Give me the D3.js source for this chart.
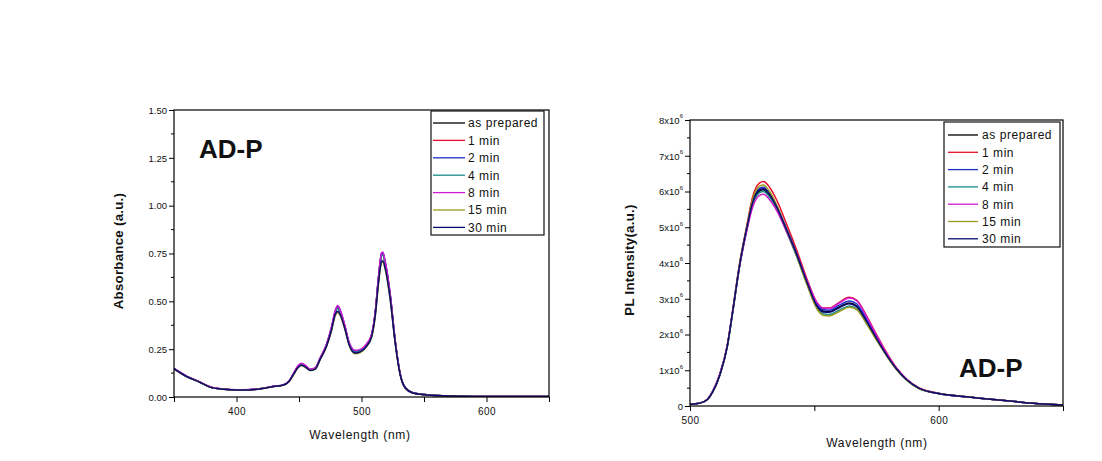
<!DOCTYPE html>
<html><head><meta charset="utf-8">
<script src="https://cdn.jsdelivr.net/npm/d3@7"></script>
<style>body{margin:0;background:#fff}svg{display:block}text{font-family:"Liberation Sans",Arial,sans-serif;fill:#111}</style>
</head><body>
<svg id="c" width="1102" height="461"></svg>
<script>
// ---------- DATA ----------
const seriesNames = ["as prepared","1 min","2 min","4 min","8 min","15 min","30 min"];
const seriesColors = ["#000000","#e8102a","#1a2fd0","#1a8c8c","#d21ad2","#9a9a1a","#0a0a70"];

// Absorbance (left panel)
const absWl = [350,360,370,380,390,400,410,420,430,437,442,446,449,452,455,459,463,467,472,476,479,481,483,487,490,495,499,504,508,511,513.5,516,517,519,523,527,531,535,541,550,565,600,650];
const absAsPrepared = [.148,.108,.080,.050,.041,.037,.038,.044,.056,.062,.082,.125,.158,.172,.162,.143,.150,.202,.272,.360,.445,.470,.448,.360,.283,.238,.243,.272,.322,.440,.615,.745,.750,.700,.530,.290,.118,.048,.022,.013,.007,.003,.002];
const abs1min      = [.148,.108,.080,.050,.041,.037,.038,.044,.056,.062,.082,.125,.157,.170,.161,.142,.150,.202,.272,.358,.442,.466,.445,.358,.282,.236,.242,.271,.321,.438,.612,.742,.748,.698,.528,.289,.118,.048,.022,.013,.007,.003,.002];
const abs2min      = [.149,.109,.080,.050,.041,.037,.038,.044,.056,.062,.083,.126,.160,.174,.164,.144,.151,.204,.274,.363,.450,.474,.452,.363,.285,.240,.245,.274,.324,.443,.620,.750,.755,.705,.534,.292,.119,.048,.022,.013,.007,.003,.002];
const abs4min      = [.147,.108,.079,.050,.041,.037,.038,.044,.056,.062,.082,.124,.156,.168,.160,.141,.149,.200,.270,.357,.440,.462,.442,.356,.281,.234,.241,.270,.320,.436,.608,.735,.742,.692,.525,.287,.117,.048,.022,.013,.007,.003,.002];
const abs8min      = [.149,.109,.081,.051,.042,.038,.039,.045,.057,.063,.084,.127,.162,.176,.166,.146,.153,.206,.276,.366,.452,.478,.455,.366,.288,.244,.249,.277,.327,.446,.622,.752,.758,.708,.536,.294,.120,.049,.022,.013,.007,.003,.002];
const abs15min     = [.146,.107,.079,.049,.040,.036,.037,.043,.055,.061,.080,.120,.150,.164,.155,.138,.145,.196,.263,.345,.425,.442,.425,.345,.272,.226,.232,.262,.310,.420,.585,.700,.705,.665,.505,.278,.114,.046,.021,.012,.007,.003,.002];
const abs30min     = [.147,.107,.079,.049,.040,.036,.037,.043,.055,.061,.081,.122,.153,.166,.157,.139,.146,.198,.265,.350,.432,.448,.430,.350,.275,.230,.236,.265,.313,.425,.592,.708,.712,.672,.510,.280,.115,.047,.021,.012,.007,.003,.002];

// PL intensity (right panel), units of 1e6
const plWl = [500,504,507,509,512,515,517,520,523,525,528,529.5,532,535,539,543,547,551,553.5,556,560,564,567,571,575,579,583,587,592,600,611,624,638,650];
const plAsPrepared = [.05,.08,.18,.38,.87,1.67,2.55,3.94,5.00,5.62,6.02,6.05,5.88,5.52,4.88,4.20,3.46,2.82,2.66,2.64,2.77,2.88,2.80,2.38,1.90,1.44,1.04,.74,.50,.35,.26,.17,.08,.03];
const pl1min       = [.05,.08,.18,.39,.89,1.70,2.60,4.02,5.10,5.80,6.24,6.28,6.12,5.74,5.06,4.34,3.56,2.90,2.74,2.74,2.90,3.04,2.96,2.52,2.00,1.50,1.07,.76,.51,.36,.26,.17,.08,.03];
const pl2min       = [.05,.08,.18,.38,.88,1.68,2.57,3.97,5.05,5.68,6.09,6.12,5.95,5.58,4.93,4.25,3.50,2.86,2.70,2.68,2.82,2.94,2.86,2.43,1.94,1.46,1.05,.75,.50,.35,.26,.17,.08,.03];
const pl4min       = [.05,.08,.18,.38,.86,1.66,2.54,3.92,4.98,5.58,5.97,6.00,5.84,5.48,4.85,4.16,3.42,2.76,2.58,2.56,2.68,2.80,2.72,2.32,1.86,1.42,1.03,.73,.49,.35,.26,.17,.08,.03];
const pl8min       = [.05,.08,.19,.40,.90,1.70,2.58,3.93,4.95,5.52,5.89,5.92,5.77,5.45,4.85,4.22,3.52,2.90,2.74,2.73,2.88,3.02,2.95,2.50,1.98,1.48,1.06,.75,.50,.35,.26,.17,.08,.03];
const pl15min      = [.05,.08,.18,.38,.87,1.68,2.57,3.98,5.06,5.74,6.15,6.18,6.00,5.60,4.90,4.18,3.40,2.72,2.54,2.52,2.64,2.76,2.70,2.30,1.84,1.41,1.02,.73,.49,.35,.26,.17,.08,.03];
const pl30min      = [.05,.08,.18,.38,.87,1.67,2.56,3.96,5.03,5.65,6.05,6.08,5.92,5.55,4.90,4.22,3.47,2.80,2.63,2.62,2.75,2.86,2.78,2.37,1.89,1.43,1.04,.74,.50,.35,.26,.17,.08,.03];

const absTicksY = [0,0.25,0.5,0.75,1.0,1.25,1.5];
const absTicksX = [350,400,450,500,550,600,650];
const absLabelsX = [400,500,600];
const plTicksY = [0,1,2,3,4,5,6,7,8];
const plTicksX = [500,550,600,650];
const plLabelsX = [500,600];

// ---------- DRAW ----------
const svg = d3.select("#c");
const absSeries = [absAsPrepared,abs1min,abs2min,abs4min,abs8min,abs15min,abs30min];
const plSeries = [plAsPrepared,pl1min,pl2min,pl4min,pl8min,pl15min,pl30min];

function panel(cfg){
  const g = svg.append("g");
  const x = d3.scaleLinear().domain(cfg.xDom).range([cfg.L, cfg.R]);
  const y = d3.scaleLinear().domain(cfg.yDom).range([cfg.B, cfg.T]);
  const id = "clip" + cfg.name;
  svg.append("clipPath").attr("id", id).append("rect")
    .attr("x", cfg.L).attr("y", cfg.T).attr("width", cfg.R-cfg.L).attr("height", cfg.B-cfg.T);
  const line = d3.line().x((d,i)=>x(cfg.wl[i])).y(d=>y(d)).curve(d3.curveMonotoneX);
  const lg = g.append("g").attr("clip-path", `url(#${id})`);
  cfg.series.forEach((s,i)=>{
    lg.append("path").attr("d", line(s)).attr("fill","none")
      .attr("stroke", seriesColors[i]).attr("stroke-width", 1.5).attr("stroke-linejoin","round");
  });
  // frame
  g.append("rect").attr("x", cfg.L).attr("y", cfg.T).attr("width", cfg.R-cfg.L).attr("height", cfg.B-cfg.T)
    .attr("fill","none").attr("stroke","#000").attr("stroke-width",1.2);
  // axes
  const xAx = d3.axisBottom(x).tickValues(cfg.xTicks).tickSize(5)
    .tickFormat(v => cfg.xLabels.includes(v) ? String(v) : "");
  const gx = g.append("g").attr("transform", `translate(0,${cfg.B})`).call(xAx);
  gx.select(".domain").remove();
  gx.selectAll("line").attr("stroke","#000");
  gx.selectAll("text").attr("font-size", 10).attr("dy", cfg.xTickDy).attr("fill","#222").style("letter-spacing","0.4px");
  // y minor ticks
  const minors = [];
  for (let i=0;i<cfg.yTicks.length-1;i++) minors.push((cfg.yTicks[i]+cfg.yTicks[i+1])/2);
  g.append("g").selectAll("line").data(minors).join("line")
    .attr("x1", cfg.L-3).attr("x2", cfg.L).attr("y1", d=>y(d)).attr("y2", d=>y(d)).attr("stroke","#000");
  const yAx = d3.axisLeft(y).tickValues(cfg.yTicks).tickSize(5).tickFormat(()=>"");
  const gy = g.append("g").attr("transform", `translate(${cfg.L},0)`).call(yAx);
  gy.select(".domain").remove();
  gy.selectAll("line").attr("stroke","#000");
  gy.selectAll(".tick").each(function(d){
    const t = d3.select(this).append("text").attr("x", -7).attr("dy","0.35em")
      .attr("text-anchor","end").attr("font-size", 9.5).attr("fill","#222");
    cfg.yFmt(t, d);
  });
  // axis titles
  g.append("text").attr("x", cfg.xTitle[0]).attr("y", cfg.xTitle[1]).attr("text-anchor","middle")
    .attr("font-size", 12).style("letter-spacing","0.7px").text("Wavelength (nm)");
  g.append("text").attr("transform", `translate(${cfg.yTitle[0]},${cfg.yTitle[1]}) rotate(-90)`)
    .attr("text-anchor","middle").attr("font-size", 13.2).attr("font-weight","bold")
    .style("letter-spacing","0.3px").text(cfg.yTitleText);
  // sample label
  g.append("text").attr("x", cfg.ad[0]).attr("y", cfg.ad[1]).attr("font-size", 26).attr("font-weight","bold")
    .attr("fill","#000").text("AD-P");
  // legend
  const lb = cfg.leg;
  g.append("rect").attr("x", lb.x).attr("y", lb.y).attr("width", lb.w).attr("height", lb.h)
    .attr("fill","#fff").attr("stroke","#111").attr("stroke-width",1.2);
  seriesNames.forEach((n,i)=>{
    const yy = lb.y0 + i*lb.dy;
    g.append("line").attr("x1", lb.lx1).attr("x2", lb.lx2).attr("y1", yy).attr("y2", yy)
      .attr("stroke", seriesColors[i]).attr("stroke-width", 1.3);
    g.append("text").attr("x", lb.tx).attr("y", yy).attr("dy","0.36em").attr("font-size", 12)
      .style("letter-spacing","0.55px").text(n);
  });
}

panel({
  name:"abs", xDom:[350,650], yDom:[0,1.5], L:174, R:549, T:110, B:397,
  wl: absWl, series: absSeries, xTicks: absTicksX, xLabels: absLabelsX, yTicks: absTicksY,
  xTickDy: "0.95em",
  yFmt: (t,d)=>t.text(d.toFixed(2)),
  xTitle:[360,439], yTitle:[123,251], yTitleText:"Absorbance (a.u.)",
  ad:[199,158],
  leg:{x:431,y:111,w:113,h:124,y0:123,dy:17.4,lx1:433,lx2:465,tx:468}
});

panel({
  name:"pl", xDom:[500,650], yDom:[0,8], L:690, R:1063, T:120, B:406,
  wl: plWl, series: plSeries, xTicks: plTicksX, xLabels: plLabelsX, yTicks: plTicksY,
  xTickDy: "0.95em",
  yFmt: (t,d)=>{ if(d===0){t.text("0");} else { t.text(d+"x10"); t.append("tspan").attr("font-size",6).attr("dy","-0.9em").text("6"); } },
  xTitle:[877,447], yTitle:[634,260], yTitleText:"PL Intensity(a.u.)",
  ad:[959,377],
  leg:{x:944,y:122,w:116,h:125,y0:135,dy:17.3,lx1:948,lx2:978,tx:982}
});
</script>
</body></html>
